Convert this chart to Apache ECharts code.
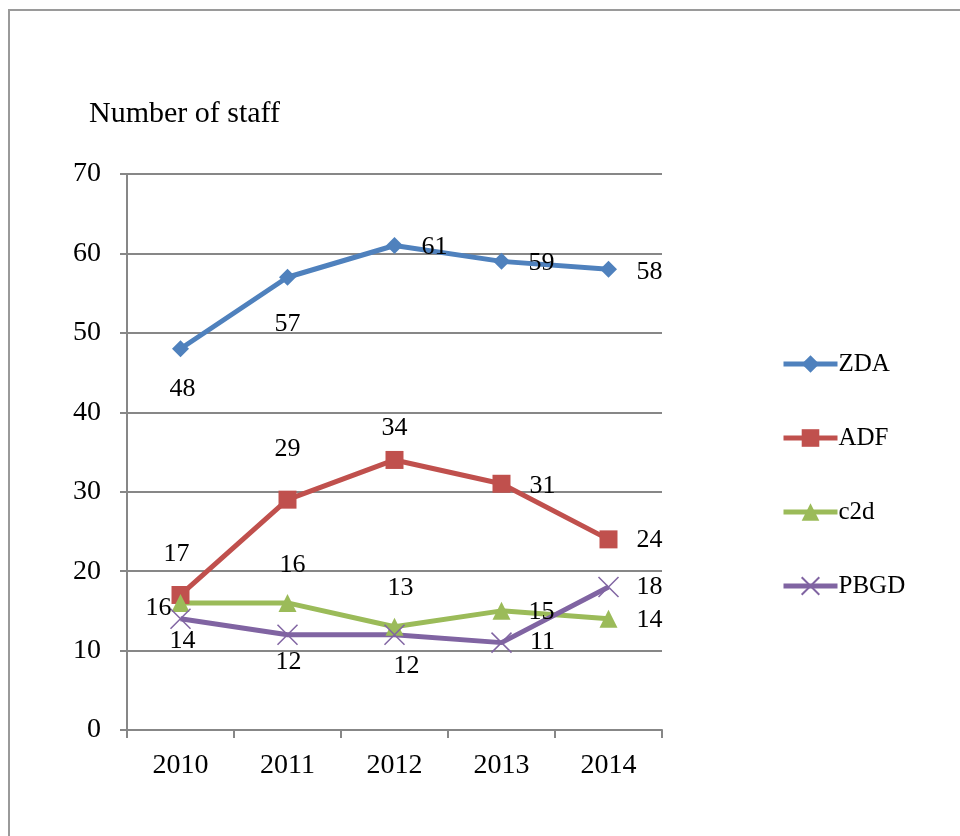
<!DOCTYPE html>
<html>
<head>
<meta charset="utf-8">
<script src="https://cdn.jsdelivr.net/npm/echarts@6/dist/echarts.min.js"></script>
<style>
  html, body { margin: 0; padding: 0; background: #fff; }
  #chart { width: 960px; height: 836px; }
</style>
</head>
<body>
<div id="chart"></div>
<script>
const years = ['2010', '2011', '2012', '2013', '2014']
const zda = [48, 57, 61, 59, 58]
const adf = [17, 29, 34, 31, 24]
const c2d = [16, 16, 13, 15, 14]
const pbgd = [14, 12, 12, 11, 18]

// where each value label sits relative to its point
const zdaLabelOffsets = [[2, 40], [0, 47], [40, 2], [40, 2], [41, 3]]
const adfLabelOffsets = [[-4, -41], [0, -50], [0, -32], [41, 2], [41, 1]]
const c2dLabelOffsets = [[-22, 5], [5, -38], [6, -39], [40, 1], [41, 1]]
const pbgdLabelOffsets = [[2, 22], [1, 27], [12, 31], [41, 0], [41, 0]]

const font = 'Liberation Serif'

function withLabels(values, offsets) {
  return values.map((v, i) => ({
    value: v,
    label: { position: 'inside', offset: offsets[i] }
  }))
}

function lineSeries(name, values, offsets, color, symbol, symbolSize, extra) {
  return Object.assign({
    name,
    type: 'line',
    data: withLabels(values, offsets),
    symbol,
    symbolSize,
    lineStyle: { color, width: 5 },
    itemStyle: { color },
    label: {
      show: true,
      fontFamily: font,
      fontSize: 26,
      color: '#000'
    },
    emphasis: { disabled: true },
    animation: false
  }, extra || {})
}

const chart = echarts.init(document.getElementById('chart'))

chart.setOption({
  backgroundColor: '#fff',
  animation: false,
  title: {
    text: 'Number of staff',
    left: 84,
    top: 94,
    textStyle: { fontFamily: font, fontSize: 30, fontWeight: 'normal', color: '#000' }
  },
  graphic: [{
    type: 'rect',
    shape: { x: 9, y: 10, width: 1000, height: 900 },
    style: { fill: 'none', stroke: '#9a9a9a', lineWidth: 2 },
    silent: true
  }],
  legend: {
    orient: 'vertical',
    left: 781,
    top: 351,
    padding: 0,
    itemWidth: 54,
    itemHeight: 22,
    itemGap: 48,
    lineStyle: { width: 5 },
    textStyle: { fontFamily: font, fontSize: 25, lineHeight: 26, color: '#000', padding: [0, 0, 0, -4] },
    data: ['ZDA', 'ADF', 'c2d', 'PBGD']
  },
  grid: { left: 127, right: 298, top: 174, bottom: 106 },
  xAxis: {
    type: 'category',
    data: years,
    boundaryGap: true,
    axisLine: { lineStyle: { color: '#878787', width: 2 } },
    axisTick: { show: true, length: 8, lineStyle: { color: '#878787', width: 2 } },
    axisLabel: { fontFamily: font, fontSize: 28, color: '#000', margin: 22 },
    splitLine: { show: false }
  },
  yAxis: {
    type: 'value',
    min: 0,
    max: 70,
    interval: 10,
    axisLine: { show: true, lineStyle: { color: '#878787', width: 2 } },
    axisTick: { show: true, length: 7, lineStyle: { color: '#878787', width: 2 } },
    axisLabel: { fontFamily: font, fontSize: 28, color: '#000', margin: 26 },
    splitLine: { lineStyle: { color: '#878787', width: 2 } }
  },
  series: [
    lineSeries('ZDA', zda, zdaLabelOffsets, '#4F81BD', 'diamond', 17),
    lineSeries('ADF', adf, adfLabelOffsets, '#C0504D', 'rect', 18),
    lineSeries('c2d', c2d, c2dLabelOffsets, '#9BBB59', 'triangle', 18),
    lineSeries('PBGD', pbgd, pbgdLabelOffsets, '#8064A2',
      'path://M0,0 L10,10 M10,0 L0,10', 20,
      { itemStyle: { color: 'none', borderColor: '#8064A2', borderWidth: 1.5 } })
  ]
})
</script>
</body>
</html>
